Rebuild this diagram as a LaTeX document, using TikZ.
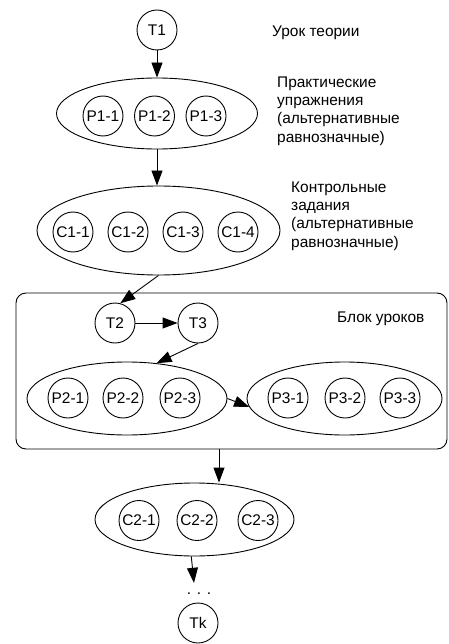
\documentclass[tikz,border=0pt]{standalone}
\usepackage{fontspec}
\setmainfont{Liberation Sans}
\usetikzlibrary{shapes.geometric, arrows.meta}
\begin{document}
\begin{tikzpicture}[x=1bp,y=-1bp,
  every node/.style={font=\fontsize{15.5}{18.3}\selectfont},
  circ/.style={draw, circle, minimum size=40bp, inner sep=0pt, line width=0.9bp},
  ell/.style={draw, ellipse, inner sep=0pt, line width=0.9bp},
  arr/.style={-{Triangle[length=15bp,width=11bp]}, line width=0.9bp},
  lbl/.style={align=left, anchor=north west, inner sep=0pt},
  lbl1/.style={anchor=base west, inner sep=0pt}
]
\useasboundingbox (0,0) rectangle (449,644);

% block
\node[draw, rounded corners=10bp, minimum width=431bp, minimum height=156bp, inner sep=0pt, line width=0.9bp] (block) at (231.5,371) {};

% top
\node[circ] (T1) at (157,30) {T1};
\node[lbl1] (lu) at (272,36.5) {Урок теории};

\node[ell, minimum width=201bp, minimum height=71bp] (e1) at (157,113.5) {};
\node[circ] (p11) at (103,116) {P1-1};
\node[circ] (p12) at (154.5,116) {P1-2};
\node[circ] (p13) at (206,116) {P1-3};
\node[lbl] (lp) at (277,76.5) {Практические\\упражнения\\(альтернативные\\равнозначные)};

\node[ell, minimum width=243bp, minimum height=89bp] (e2) at (158.5,230.5) {};
\node[circ] (c11) at (73,232) {C1-1};
\node[circ] (c12) at (128,232) {C1-2};
\node[circ] (c13) at (183,232) {C1-3};
\node[circ] (c14) at (238,232) {C1-4};
\node[lbl] (lc) at (291,181.5) {Контрольные\\задания\\(альтернативные\\равнозначные)};

% block content
\node[lbl1] (lb) at (337,322.5) {Блок уроков};
\node[circ] (T2) at (115,323) {T2};
\node[circ] (T3) at (198,323) {T3};

\node[ell, minimum width=200bp, minimum height=73bp] (e3) at (127,398.5) {};
\node[circ] (p21) at (68,398) {P2-1};
\node[circ] (p22) at (123,398) {P2-2};
\node[circ] (p23) at (180,398) {P2-3};

\node[ell, minimum width=195bp, minimum height=73bp] (e4) at (344.5,398.5) {};
\node[circ] (p31) at (288,398) {P3-1};
\node[circ] (p32) at (345,398) {P3-2};
\node[circ] (p33) at (400,398) {P3-3};

% bottom
\node[ell, minimum width=199bp, minimum height=73bp] (e5) at (194.5,519.5) {};
\node[circ] (c21) at (139,520.5) {C2-1};
\node[circ] (c22) at (197,520.5) {C2-2};
\node[circ] (c23) at (258,520.5) {C2-3};

\node[inner sep=0pt, minimum height=22bp] (dots) at (199,594) {. . .};
\node[circ] (Tk) at (198,623) {Tk};

\coordinate (bo) at (219,449);

% connectors
\draw[arr] (T1) -- (e1);
\draw[arr] (e1.south) -- (e1.south |- e2.north);
\draw[arr] (e2.south) -- (T2.75);
\draw[arr] (T2) -- (T3);
\draw[arr] (T3.south) -- (e3.50);
\draw[arr] (e3.east) -- (e4.185);
\draw[arr] (bo) -- (bo |- e5.north);
\draw[arr] (e5.265) -- ([xshift=-5bp]dots.north);
\end{tikzpicture}
\end{document}
